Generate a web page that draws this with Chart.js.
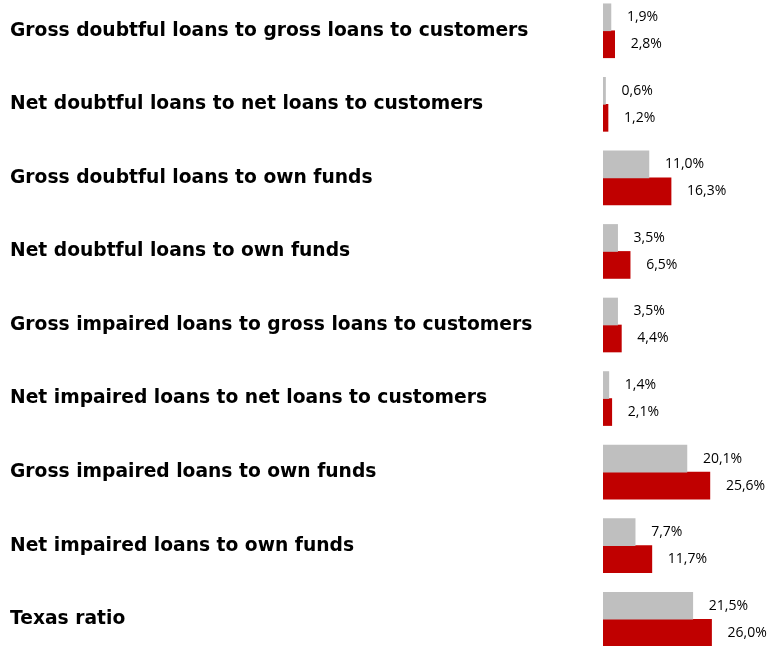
<!DOCTYPE html>
<html lang="en">

<head>
    <meta charset="UTF-8">
    <script src="https://cdn.jsdelivr.net/npm/chart.js@4.4.1/dist/chart.umd.min.js"></script>
    <title>Asset quality ratios</title>
    <style>
        html, body { margin: 0; padding: 0; background: #fff; overflow: hidden; }
        #wrap { position: absolute; left: 0; top: -6px; width: 772px; height: 662px; }
    </style>
</head>

<body>
    <div id="wrap">
        <canvas id="myChart"></canvas>
    </div>
    <script>
        const ratios = [
            'Gross doubtful loans to gross loans to customers',
            'Net doubtful loans to net loans to customers',
            'Gross doubtful loans to own funds',
            'Net doubtful loans to own funds',
            'Gross impaired loans to gross loans to customers',
            'Net impaired loans to net loans to customers',
            'Gross impaired loans to own funds',
            'Net impaired loans to own funds',
            'Texas ratio'
        ];
        const previousYear = [1.9, 0.6, 11.0, 3.5, 3.5, 1.4, 20.1, 7.7, 21.5];
        const currentYear = [2.8, 1.2, 16.3, 6.5, 4.4, 2.1, 25.6, 11.7, 26.0];

        // writes "1,9%" style labels just past the end of each bar
        const valueLabels = {
            id: 'valueLabels',
            afterDatasetsDraw(chart) {
                const ctx = chart.ctx;
                ctx.save();
                ctx.font = '14px "Open Sans"';
                ctx.fillStyle = '#000';
                ctx.textBaseline = 'middle';
                ctx.textAlign = 'left';
                chart.data.datasets.forEach((ds, i) => {
                    chart.getDatasetMeta(i).data.forEach((bar, j) => {
                        const txt = ds.data[j].toFixed(1).replace('.', ',') + '%';
                        ctx.fillText(txt, bar.x + 16, bar.y);
                    });
                });
                ctx.restore();
            }
        };

        var ctx = document.getElementById('myChart').getContext('2d');
        var myChart = new Chart(ctx, {
            type: 'bar',
            data: {
                labels: ratios,
                datasets: [{
                    data: previousYear,
                    backgroundColor: '#BFBFBF',
                    barThickness: 27
                }, {
                    data: currentYear,
                    backgroundColor: '#C00000',
                    barThickness: 27
                }]
            },
            options: {
                indexAxis: 'y',
                responsive: true,
                maintainAspectRatio: false,
                animation: false,
                layout: { padding: { left: 10, right: 2, top: 0, bottom: 0 } },
                plugins: {
                    legend: { display: false },
                    tooltip: { enabled: false }
                },
                scales: {
                    x: {
                        min: 0,
                        max: 40,
                        display: false
                    },
                    y: {
                        grid: { display: false, drawTicks: false },
                        border: { display: false },
                        ticks: {
                            crossAlign: 'far',
                            color: '#000',
                            padding: 0,
                            font: { family: '"DejaVu Sans"', weight: 'bold', size: 18.7 }
                        },
                        afterFit(scale) {
                            scale.width = 593;
                            scale.paddingTop = 0;
                            scale.paddingBottom = 0;
                        }
                    }
                }
            },
            plugins: [valueLabels]
        });
    </script>
</body>

</html>
